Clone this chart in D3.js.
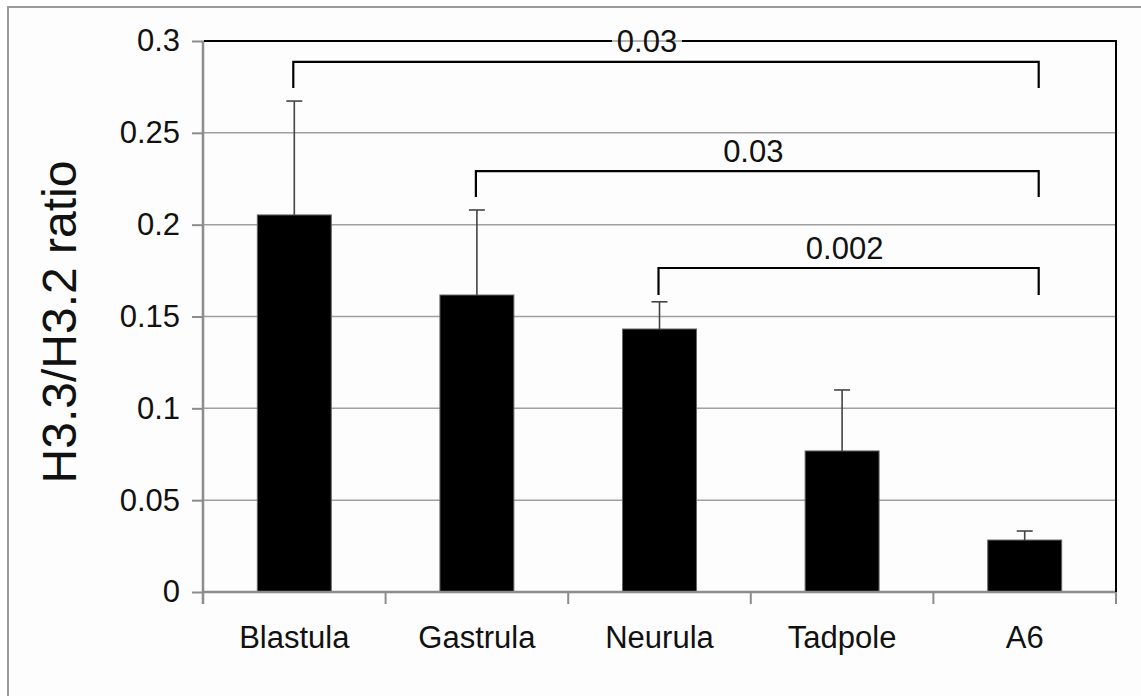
<!DOCTYPE html>
<html>
<head>
<meta charset="utf-8">
<script src="https://cdn.jsdelivr.net/npm/d3@7"></script>
<style>
  body { margin: 0; background: #fff; }
  svg { display: block; font-family: "Liberation Sans", Arial, sans-serif; }
</style>
</head>
<body>
<svg id="chart"></svg>
<script>
// values
const stages = ["Blastula", "Gastrula", "Neurula", "Tadpole", "A6"];
const ratios = [0.2053, 0.1617, 0.1432, 0.0768, 0.0283];
const errTop = [0.2673, 0.2080, 0.1580, 0.1100, 0.0332];
const tickValues = [0, 0.05, 0.1, 0.15, 0.2, 0.25, 0.3];
const tickLabels = ["0", "0.05", "0.1", "0.15", "0.2", "0.25", "0.3"];

// significance brackets: from stage, to stage, p value, bracket level, drop end
const bracketFrom = ["Blastula", "Gastrula", "Neurula"];
const bracketTo = ["A6", "A6", "A6"];
const bracketP = ["0.03", "0.03", "0.002"];
const bracketLevel = [0.2886, 0.2292, 0.1764];
const bracketDrop = [0.2744, 0.2151, 0.1617];

const W = 1141, H = 696;
const plotL = 203, plotR = 1116, plotT = 41, plotB = 592;

const svg = d3.select("#chart").attr("width", W).attr("height", H);

// outer frame
svg.append("rect")
  .attr("x", 8).attr("y", 7)
  .attr("width", W + 20).attr("height", H + 20)
  .attr("fill", "#fdfdfd")
  .attr("stroke", "#9a9a9a")
  .attr("stroke-width", 2);

const x = d3.scaleBand()
  .domain(stages)
  .range([plotL, plotR])
  .paddingInner(0.595)
  .paddingOuter(0.2975);

const y = d3.scaleLinear().domain([0, 0.3]).range([plotB, plotT]);

// gridlines
svg.append("g")
  .selectAll("line")
  .data(tickValues.slice(1))
  .join("line")
  .attr("x1", plotL).attr("x2", plotR)
  .attr("y1", d => y(d)).attr("y2", d => y(d))
  .attr("stroke", "#a0a0a0")
  .attr("stroke-width", 1.5);

// bars
svg.append("g")
  .selectAll("rect")
  .data(stages)
  .join("rect")
  .attr("x", d => x(d))
  .attr("width", x.bandwidth())
  .attr("y", (d, i) => y(ratios[i]))
  .attr("height", (d, i) => y(0) - y(ratios[i]))
  .attr("fill", "#000")
  .attr("stroke", "#666")
  .attr("stroke-width", 1);

// error bars (upper only)
const eb = svg.append("g").attr("stroke", "#444").attr("stroke-width", 1.6);
stages.forEach((s, i) => {
  const cx = x(s) + x.bandwidth() / 2;
  eb.append("line")
    .attr("x1", cx).attr("x2", cx)
    .attr("y1", y(ratios[i])).attr("y2", y(errTop[i]));
  eb.append("line")
    .attr("x1", cx - 8).attr("x2", cx + 8)
    .attr("y1", y(errTop[i])).attr("y2", y(errTop[i]));
});

// y axis
const yAxis = svg.append("g")
  .attr("transform", `translate(${plotL},0)`)
  .call(d3.axisLeft(y)
    .tickValues(tickValues)
    .tickFormat((d, i) => tickLabels[i])
    .tickSize(11)
    .tickPadding(12));
yAxis.select(".domain").attr("stroke", "#8c8c8c").attr("stroke-width", 2.5)
  .attr("d", `M0,${plotB + 12}V${plotT}`);
yAxis.selectAll(".tick line").attr("stroke", "#8c8c8c").attr("stroke-width", 2);
yAxis.selectAll(".tick text")
  .attr("font-size", 31)
  .attr("fill", "#111")
  .attr("font-family", "Liberation Sans, Arial, sans-serif");

// x axis line and boundary ticks
const xg = svg.append("g").attr("stroke", "#8c8c8c").attr("stroke-width", 2.5);
xg.append("line")
  .attr("x1", plotL).attr("x2", plotR)
  .attr("y1", plotB).attr("y2", plotB);
d3.range(stages.length + 1).forEach(i => {
  const bx = plotL + i * x.step();
  xg.append("line")
    .attr("x1", bx).attr("x2", bx)
    .attr("y1", plotB).attr("y2", plotB + 12)
    .attr("stroke-width", 2);
});

// category labels
svg.append("g")
  .selectAll("text")
  .data(stages)
  .join("text")
  .attr("x", d => x(d) + x.bandwidth() / 2)
  .attr("y", 648)
  .attr("text-anchor", "middle")
  .attr("font-size", 31)
  .attr("fill", "#111")
  .text(d => d);

// y title
svg.append("text")
  .attr("transform", `translate(76,322) rotate(-90)`)
  .attr("text-anchor", "middle")
  .attr("font-size", 48)
  .attr("fill", "#111")
  .text("H3.3/H3.2 ratio");

// black top and right border of plot area, with a gap for the first p value
const gapHalf = 35;
const labelX0 = 647;
const border = svg.append("g").attr("stroke", "#000").attr("stroke-width", 2).attr("fill", "none");
border.append("path")
  .attr("d", `M${plotL + 1},${plotT}H${labelX0 - gapHalf}`);
border.append("path")
  .attr("d", `M${labelX0 + gapHalf},${plotT}H${plotR}V${plotB}`);

// brackets
const br = svg.append("g");
bracketFrom.forEach((from, i) => {
  const x1 = x(from) + x.bandwidth() / 2 - 1;
  const x2 = x(bracketTo[i]) + x.bandwidth() / 2 + 14;
  br.append("path")
    .attr("d", `M${x1},${y(bracketDrop[i])}V${y(bracketLevel[i])}H${x2}V${y(bracketDrop[i])}`)
    .attr("fill", "none")
    .attr("stroke", "#000")
    .attr("stroke-width", 2.2);
  // first label sits on the top border, the rest just above their bracket
  const lx = i === 0 ? labelX0 : (x1 + x2) / 2 - 4;
  const ly = i === 0 ? plotT + 11 : y(bracketLevel[i]) - 9;
  br.append("text")
    .attr("x", lx)
    .attr("y", ly)
    .attr("text-anchor", "middle")
    .attr("font-size", 31)
    .attr("fill", "#111")
    .text(bracketP[i]);
});
</script>
</body>
</html>
